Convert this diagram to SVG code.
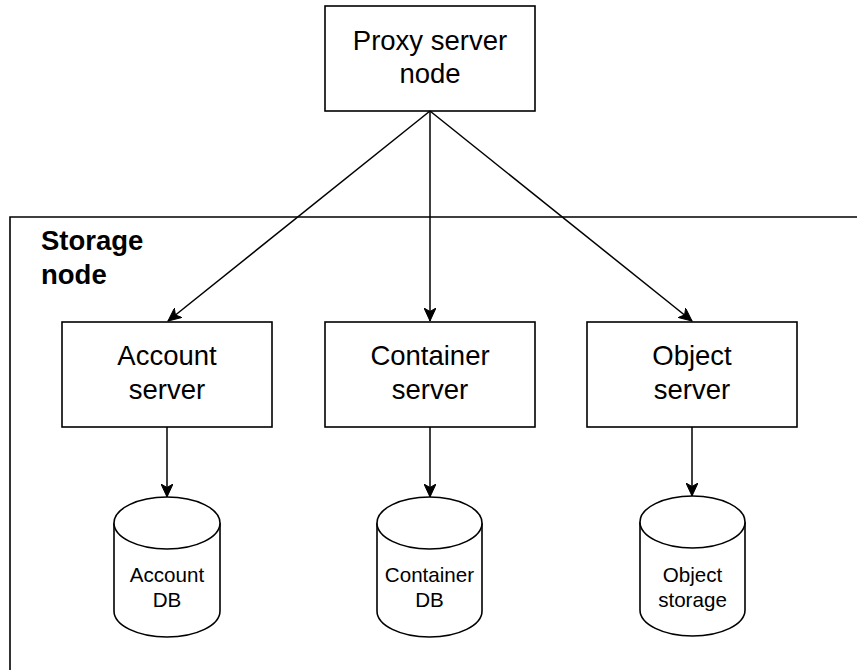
<svg xmlns="http://www.w3.org/2000/svg" width="857" height="670" viewBox="0 0 857 670">
<style>
.box{fill:#fff;stroke:#000;stroke-width:1.6}
.lbl{font-family:"Liberation Sans",Arial,sans-serif;font-size:27.5px;fill:#000;text-anchor:middle}
.small{font-family:"Liberation Sans",Arial,sans-serif;font-size:20.6px;fill:#000;text-anchor:middle}
.bold{font-family:"Liberation Sans",Arial,sans-serif;font-size:27.5px;font-weight:bold;fill:#000}
.edge{fill:none;stroke:#000;stroke-width:1.5}
</style>
<defs>
<marker id="arr" markerUnits="userSpaceOnUse" viewBox="0 0 14 12" markerWidth="14" markerHeight="12" refX="13" refY="6" orient="auto">
<path d="M13,6 L0,0 L3.5,6 L0,12 Z" fill="#000" stroke="#000" stroke-width="1"/>
</marker>
</defs>
<g id="storage-node">
<path d="M857,217 H10 V670" fill="none" stroke="#000" stroke-width="1.6"/>
<text class="bold" x="41" y="250">Storage</text>
<text class="bold" x="41" y="284">node</text>
</g>
<g id="proxy">
<rect class="box" x="325" y="6" width="210" height="105"/>
<text class="lbl" x="430" y="50">Proxy server</text>
<text class="lbl" x="430" y="83">node</text>
</g>
<g id="account-server">
<rect class="box" x="62" y="322" width="210" height="105"/>
<text class="lbl" x="167" y="365">Account</text>
<text class="lbl" x="167" y="399">server</text>
</g>
<g id="container-server">
<rect class="box" x="325" y="322" width="210" height="105"/>
<text class="lbl" x="430" y="365">Container</text>
<text class="lbl" x="430" y="399">server</text>
</g>
<g id="object-server">
<rect class="box" x="587" y="322" width="210" height="105"/>
<text class="lbl" x="692" y="365">Object</text>
<text class="lbl" x="692" y="399">server</text>
</g>
<g id="account-db">
<path class="box" d="M114,523 A53,26 0 0 1 220,523 V611 A53,26 0 0 1 114,611 Z"/>
<path class="box" fill="none" d="M114,523 A53,26 0 0 0 220,523"/>
<text class="small" x="167" y="582">Account</text>
<text class="small" x="167" y="607">DB</text>
</g>
<g id="container-db">
<path class="box" d="M377,523 A52.5,26 0 0 1 482,523 V611 A52.5,26 0 0 1 377,611 Z"/>
<path class="box" fill="none" d="M377,523 A52.5,26 0 0 0 482,523"/>
<text class="small" x="429.5" y="582">Container</text>
<text class="small" x="429.5" y="607">DB</text>
</g>
<g id="object-storage">
<path class="box" d="M640,522 A52.5,26 0 0 1 745,522 V610 A52.5,26 0 0 1 640,610 Z"/>
<path class="box" fill="none" d="M640,522 A52.5,26 0 0 0 745,522"/>
<text class="small" x="692.5" y="582">Object</text>
<text class="small" x="692.5" y="607">storage</text>
</g>
<g id="connectors">
<line class="edge" x1="430" y1="111" x2="168" y2="321" marker-end="url(#arr)"/>
<line class="edge" x1="430" y1="111" x2="430" y2="321" marker-end="url(#arr)"/>
<line class="edge" x1="430" y1="111" x2="692" y2="321" marker-end="url(#arr)"/>
<line class="edge" x1="167" y1="427" x2="167" y2="497" marker-end="url(#arr)"/>
<line class="edge" x1="430" y1="427" x2="430" y2="497" marker-end="url(#arr)"/>
<line class="edge" x1="692" y1="427" x2="692" y2="496" marker-end="url(#arr)"/>
</g>
</svg>
